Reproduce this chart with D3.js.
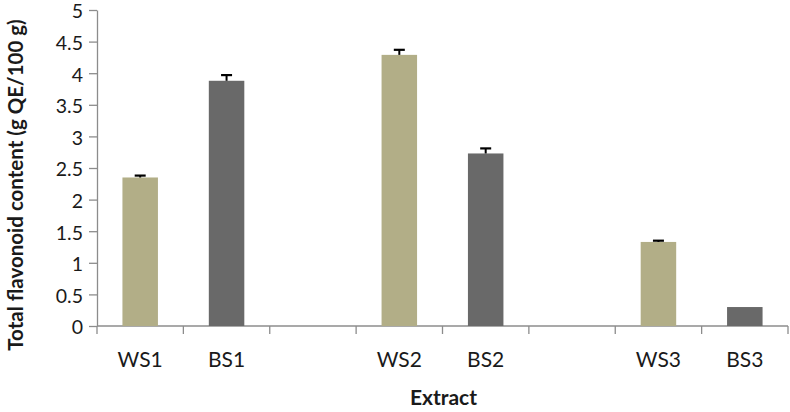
<!DOCTYPE html>
<html><head><meta charset="utf-8">
<script src="https://cdn.jsdelivr.net/npm/d3@7"></script>
<style>body{margin:0;background:#fff}svg{display:block}</style>
</head><body>
<script>
const categories = ["WS1","BS1","","WS2","BS2","","WS3","BS3"];
const values = [2.35, 3.88, null, 4.29, 2.73, null, 1.33, 0.30];
const errors = [0.03, 0.09, null, 0.08, 0.08, null, 0.02, 0];
const barKinds = ["W","B","","W","B","","W","B"];
const yTicks = [0,0.5,1,1.5,2,2.5,3,3.5,4,4.5,5];
const colors = {W:"#b2ae87", B:"#696969"};
const font = "Lato, 'Liberation Sans', sans-serif";

const W = 790, H = 412;
const m = {left:97, right:2, top:10, bottom:86};
const svg = d3.select("body").append("svg").attr("width",W).attr("height",H);
const slots = categories.map((c,i)=>i);
const x = d3.scaleBand().domain(slots).range([m.left, W-m.right]).paddingInner(0).paddingOuter(0);
const y = d3.scaleLinear().domain([0,5]).range([H-m.bottom, m.top]);

// y axis
const yAxis = svg.append("g").attr("transform",`translate(${m.left},0)`)
  .call(d3.axisLeft(y).tickValues(yTicks).tickSize(8).tickSizeOuter(0).tickPadding(6).tickFormat(d=>String(d)));
yAxis.select(".domain").attr("stroke","#8c8c8c").attr("stroke-width",1.3);
yAxis.selectAll(".tick line").attr("stroke","#8c8c8c").attr("stroke-width",1.3);
yAxis.selectAll("text").attr("font-family",font).attr("font-size",19.5).attr("fill","#1a1a1a").attr("dy","0.4em");

// x axis baseline & ticks at slot boundaries
const xg = svg.append("g");
xg.append("line").attr("x1",m.left).attr("x2",W-m.right).attr("y1",y(0)).attr("y2",y(0))
  .attr("stroke","#8c8c8c").attr("stroke-width",1.3);
const bounds = slots.map(i=>x(i)).concat([x(slots.length-1)+x.bandwidth()]);
xg.selectAll("line.tk").data(bounds).enter().append("line").attr("class","tk")
  .attr("x1",d=>d).attr("x2",d=>d).attr("y1",y(0)).attr("y2",y(0)+8)
  .attr("stroke","#8c8c8c").attr("stroke-width",1.3);
xg.selectAll("text").data(slots.filter(i=>categories[i])).enter().append("text")
  .attr("x",i=>x(i)+x.bandwidth()/2).attr("y",y(0)+41)
  .attr("text-anchor","middle").attr("font-family",font).attr("font-size",21).attr("fill","#1a1a1a")
  .text(i=>categories[i]);

// bars
const bw = 35.5;
const data = slots.filter(i=>values[i]!=null);
svg.selectAll("rect.bar").data(data).enter().append("rect").attr("class","bar")
  .attr("x",i=>x(i)+x.bandwidth()/2-bw/2).attr("width",bw)
  .attr("y",i=>y(values[i])).attr("height",i=>y(0)-y(values[i]))
  .attr("fill",i=>colors[barKinds[i]]);

// error bars (upper)
const eb = svg.selectAll("g.err").data(data.filter(i=>errors[i]>0)).enter().append("g");
eb.append("line").attr("x1",i=>x(i)+x.bandwidth()/2).attr("x2",i=>x(i)+x.bandwidth()/2)
  .attr("y1",i=>y(values[i])).attr("y2",i=>y(values[i]+errors[i])).attr("stroke","#000").attr("stroke-width",2);
eb.append("line").attr("x1",i=>x(i)+x.bandwidth()/2-5.5).attr("x2",i=>x(i)+x.bandwidth()/2+5.5)
  .attr("y1",i=>y(values[i]+errors[i])).attr("y2",i=>y(values[i]+errors[i])).attr("stroke","#000").attr("stroke-width",2.2);

// titles
svg.append("text").attr("transform",`translate(23,${(y(0)+y(5))/2+17}) rotate(-90)`)
  .attr("text-anchor","middle").attr("font-family",font).attr("font-weight","bold").attr("font-size",20.5).attr("fill","#1a1a1a")
  .text("Total flavonoid content (g QE/100 g)");
svg.append("text").attr("x",(m.left+W)/2).attr("y",405)
  .attr("text-anchor","middle").attr("font-family",font).attr("font-weight","bold").attr("font-size",21).attr("fill","#1a1a1a")
  .text("Extract");
</script>
</body></html>
